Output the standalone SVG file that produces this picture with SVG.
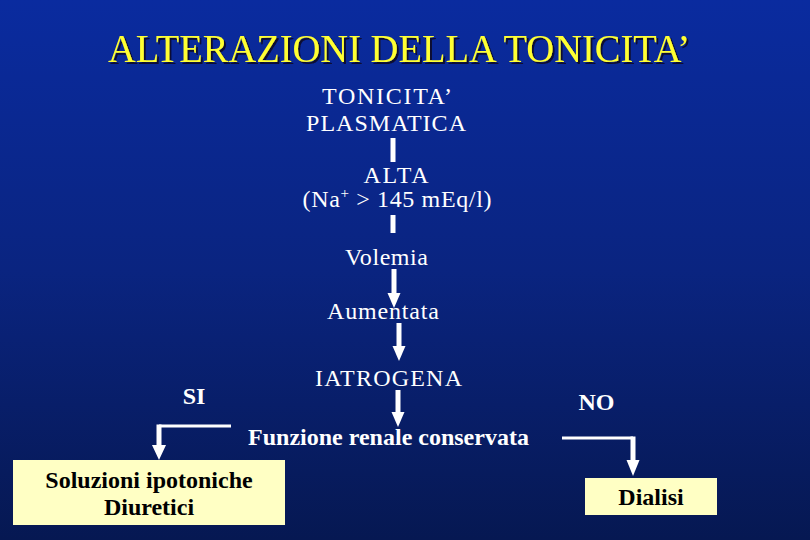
<svg xmlns="http://www.w3.org/2000/svg" width="810" height="540" viewBox="0 0 810 540">
<defs>
<linearGradient id="bg" x1="0" y1="0" x2="0" y2="1">
<stop offset="0" stop-color="#0a2b9f"/>
<stop offset="0.5" stop-color="#0a2480"/>
<stop offset="1" stop-color="#061852"/>
</linearGradient>
<filter id="sh" x="-5%" y="-20%" width="110%" height="140%">
<feDropShadow dx="2" dy="2" stdDeviation="0.3" flood-color="#0a0a30" flood-opacity="1"/>
</filter>
</defs>
<style>
text{font-family:'Liberation Serif','Tinos','Times New Roman','DejaVu Serif',serif}
.t{fill:#ffffff;font-size:24px;text-anchor:middle}
.b{font-weight:bold}
.bx{fill:#ffffc4}
.bt{fill:#000000;font-size:24px;font-weight:bold;text-anchor:middle}
.ttl{font-size:40px;fill:#ffff33;text-anchor:middle}
.bar{stroke:#ffffff;stroke-width:5;fill:none}
.ln{stroke:#ffffff;stroke-width:3;fill:none}
.hd{fill:#ffffff}
</style>
<rect x="0" y="0" width="810" height="540" fill="url(#bg)"/>
<g id="title">
<text class="ttl" x="399" y="62" filter="url(#sh)" textLength="582" lengthAdjust="spacingAndGlyphs">ALTERAZIONI DELLA TONICITA’</text>
</g>
<g id="connectors">
<line class="bar" x1="393" y1="138" x2="393" y2="162"/>
<line class="bar" x1="393" y1="215" x2="393" y2="233"/>
<line class="bar" x1="394" y1="269" x2="394" y2="294"/>
<path class="hd" d="M387.5,293 L400.5,293 L394,308 Z"/>
<line class="bar" x1="399" y1="323" x2="399" y2="348"/>
<path class="hd" d="M392.5,346 L405.5,346 L399,361 Z"/>
<line class="bar" x1="398" y1="390" x2="398" y2="413"/>
<path class="hd" d="M391.5,412 L404.5,412 L398,427 Z"/>
<polyline class="ln" points="231,426 159,426"/>
<line class="bar" x1="159" y1="424.5" x2="159" y2="446"/>
<path class="hd" d="M152,445 L166,445 L159,460 Z"/>
<polyline class="ln" points="562,438 633,438"/>
<line class="bar" x1="633" y1="436.5" x2="633" y2="461"/>
<path class="hd" d="M626.5,460 L639.5,460 L633,476 Z"/>
</g>
<g id="n1"><text class="t" x="387" y="104" textLength="130">TONICITA’</text><text class="t" x="386" y="131" textLength="160">PLASMATICA</text></g>
<g id="n2"><text class="t" x="396" y="183" textLength="65">ALTA</text><text class="t" x="397" y="207" textLength="189">(Na<tspan font-size="15" dy="-9">+</tspan><tspan dy="9"> &gt; 145 mEq/l)</tspan></text></g>
<g id="n3"><text class="t" x="386.5" y="265" textLength="83">Volemia</text></g>
<g id="n4"><text class="t" x="383" y="319" textLength="112">Aumentata</text></g>
<g id="n5"><text class="t" x="388.5" y="386" textLength="147">IATROGENA</text></g>
<g id="n6"><text class="t b" x="388.5" y="445">Funzione renale conservata</text></g>
<g id="si"><text class="t b" x="194" y="404">SI</text></g>
<g id="no"><text class="t b" x="596.5" y="410">NO</text></g>
<g id="box1"><rect class="bx" x="13" y="460" width="272" height="65"/><text class="bt" x="149" y="488">Soluzioni ipotoniche</text><text class="bt" x="149" y="515">Diuretici</text></g>
<g id="box2"><rect class="bx" x="585" y="478" width="132" height="37"/><text class="bt" x="651" y="505">Dialisi</text></g>
</svg>
